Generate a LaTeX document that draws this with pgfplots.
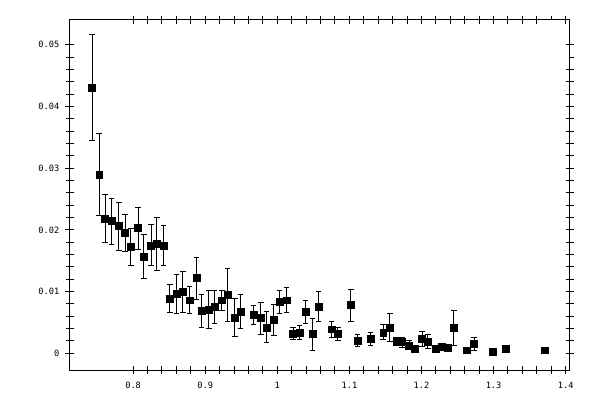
\documentclass[border=0pt]{standalone}
\usepackage{pgfplots}
\pgfplotsset{compat=1.18}
\usepackage{pgfplotstable}
\usepackage{fontspec}
\newfontfamily\labelfont{DejaVu Sans Mono}

% x, y, symmetric error
\pgfplotstableread{
x y e
0.743 0.0430 0.0086
0.753 0.0290 0.0066
0.761 0.0218 0.0039
0.770 0.0214 0.0037
0.780 0.0206 0.0039
0.789 0.0195 0.0030
0.797 0.0172 0.0030
0.807 0.0203 0.0034
0.815 0.0157 0.0035
0.825 0.0175 0.0033
0.833 0.0177 0.0043
0.842 0.0175 0.0032
0.851 0.0089 0.0023
0.860 0.0096 0.0031
0.869 0.0099 0.0033
0.878 0.0086 0.0022
0.888 0.0122 0.0034
0.895 0.0069 0.0027
0.905 0.0071 0.0030
0.913 0.0075 0.0026
0.923 0.0086 0.0016
0.931 0.0095 0.0043
0.941 0.0058 0.0031
0.949 0.0068 0.0028
0.967 0.0062 0.0016
0.977 0.0057 0.0026
0.985 0.0042 0.0025
0.995 0.0054 0.0025
1.003 0.0083 0.0019
1.013 0.0086 0.0020
1.022 0.0032 0.0010
1.031 0.0034 0.0011
1.039 0.0067 0.0019
1.049 0.0031 0.0026
1.057 0.0076 0.0024
1.075 0.0039 0.0013
1.084 0.0031 0.0011
1.102 0.0078 0.0026
1.111 0.0021 0.0010
1.129 0.0023 0.0011
1.147 0.0034 0.0012
1.156 0.0042 0.0023
1.165 0.0019 0.0007
1.173 0.0018 0.0008
1.183 0.0013 0.0007
1.191 0.0008 0.0003
1.201 0.0023 0.0012
1.209 0.0019 0.0011
1.220 0.0007 0.0003
1.228 0.0010 0.0003
1.237 0.0009 0.0003
1.245 0.0041 0.0028
1.263 0.0005 0.0003
1.273 0.0015 0.0011
1.299 0.0003 0.0003
1.317 0.0007 0.0005
1.371 0.0005 0.0003
}\datatable

\begin{document}
\begin{tikzpicture}
\begin{axis}[
scale only axis,
width=375.2pt, height=262.5pt,
xmin=0.712, xmax=1.406,
ymin=-0.0027, ymax=0.054,
scaled x ticks=false, scaled y ticks=false,
xtick={0.8,0.9,1,1.1,1.2,1.3,1.4},
xticklabels={0.8,0.9,1,1.1,1.2,1.3,1.4},
ytick={0,0.01,0.02,0.03,0.04,0.05},
yticklabels={0,0.01,0.02,0.03,0.04,0.05},
minor x tick num=4, minor y tick num=4,
tick align=center,
major tick length=6.5pt, minor tick length=6pt,
tick style={black, line width=0.75pt},
minor tick style={black, line width=0.75pt, shorten >=3pt},
axis line style={line width=0.75pt},
ticklabel style={font=\labelfont\fontsize{6.5}{7.5}\selectfont},
xticklabel style={yshift=-2pt},
yticklabel style={xshift=-1pt},
clip=false,
]
\addplot[only marks, mark=square*, mark size=2.6pt, black,
  error bars/.cd, y dir=both, y explicit,
  error bar style={line width=0.75pt},
  error mark options={rotate=90, mark size=2.1pt, line width=0.75pt}]
  table[x=x, y=y, y error=e]{\datatable};
\path (axis description cs:-0.1393,-0.0857) rectangle (axis description cs:1.06,1.0571);
\end{axis}
\end{tikzpicture}
\end{document}
